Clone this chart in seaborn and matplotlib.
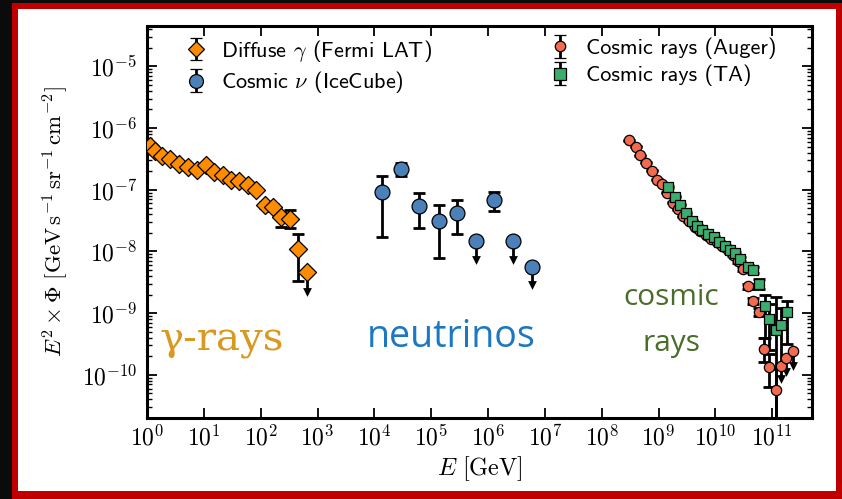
import numpy as np
import pandas as pd
import matplotlib
matplotlib.use("Agg")
import matplotlib.pyplot as plt
import seaborn as sns
from matplotlib.patches import Rectangle
from matplotlib.ticker import LogLocator, NullLocator, FuncFormatter

# ---------------- data (E in GeV, E^2 Phi in GeV s^-1 sr^-1 cm^-2) ----------------
fermi_E = [1.12, 1.38, 1.82, 2.57, 3.72, 5.25, 7.59, 11.0, 15.1, 21.4, 29.5, 41.7,
           58.9, 81.3, 117, 162, 229, 331, 457]
fermi_F = [5.13e-7, 4.17e-7, 3.47e-7, 3.16e-7, 2.63e-7, 2.34e-7, 2.09e-7, 2.51e-7,
           1.91e-7, 1.74e-7, 1.45e-7, 1.41e-7, 1.20e-7, 9.8e-8, 5.75e-8, 5.25e-8,
           3.63e-8, 3.39e-8, 1.10e-8]
fermi_lo = [5.0e-7, 4.05e-7, 3.37e-7, 3.07e-7, 2.55e-7, 2.27e-7, 2.03e-7, 2.43e-7,
            1.85e-7, 1.68e-7, 1.40e-7, 1.36e-7, 1.15e-7, 9.3e-8, 5.1e-8, 4.5e-8,
            2.45e-8, 2.40e-8, 3.31e-9]
fermi_hi = [5.3e-7, 4.3e-7, 3.57e-7, 3.26e-7, 2.71e-7, 2.41e-7, 2.15e-7, 2.59e-7,
            1.97e-7, 1.80e-7, 1.50e-7, 1.46e-7, 1.25e-7, 1.03e-7, 6.4e-8, 5.9e-8,
            4.17e-8, 4.68e-8, 1.95e-8]
fermi_ul_E = [646]
fermi_ul_F = [4.68e-9]
fermi_ul_tip = [2.2e-9]

nu_E = [1.35e4, 2.95e4, 6.17e4, 1.35e5, 2.82e5, 1.29e6]
nu_F = [9.1e-8, 2.14e-7, 5.5e-8, 3.16e-8, 4.27e-8, 6.76e-8]
nu_lo = [1.70e-8, 1.70e-7, 2.4e-8, 7.9e-9, 1.95e-8, 4.47e-8]
nu_hi = [1.70e-7, 2.75e-7, 8.9e-8, 5.75e-8, 6.76e-8, 9.3e-8]
nu_ul_E = [6.17e5, 2.75e6, 6.03e6]
nu_ul_F = [1.45e-8, 1.45e-8, 5.5e-9]
nu_ul_tip = [7.2e-9, 7.2e-9, 2.9e-9]

auger_E = [3.02e8, 3.98e8, 4.68e8, 6.03e8, 7.59e8, 9.55e8, 1.17e9, 1.41e9, 1.78e9,
           2.24e9, 2.69e9, 3.47e9, 4.37e9, 5.37e9, 6.76e9, 8.51e9, 1.07e10, 1.32e10,
           1.66e10, 2.04e10, 2.51e10, 3.02e10, 3.72e10, 4.57e10, 5.89e10, 7.08e10,
           8.91e10, 1.17e11]
auger_F = [6.31e-7, 5.01e-7, 3.63e-7, 2.75e-7, 2.04e-7, 1.45e-7, 1.26e-7, 8.9e-8,
           6.17e-8, 4.79e-8, 3.72e-8, 3.09e-8, 2.51e-8, 2.14e-8, 1.86e-8, 1.58e-8,
           1.41e-8, 1.23e-8, 1.05e-8, 8.7e-9, 6.9e-9, 5.25e-9, 2.75e-9, 1.58e-9,
           1.05e-9, 2.63e-10, 1.32e-10, 5.6e-11]
auger_lo = [6.2e-7, 4.9e-7, 3.56e-7, 2.7e-7, 2.0e-7, 1.42e-7, 1.23e-7, 8.7e-8,
            6.05e-8, 4.7e-8, 3.65e-8, 3.03e-8, 2.46e-8, 2.1e-8, 1.82e-8, 1.55e-8,
            1.37e-8, 1.19e-8, 1.01e-8, 8.3e-9, 6.5e-9, 4.9e-9, 2.5e-9, 1.4e-9,
            8.9e-10, 1.6e-10, 6.3e-11, 2.0e-11]
auger_hi = [6.4e-7, 5.1e-7, 3.7e-7, 2.8e-7, 2.08e-7, 1.48e-7, 1.29e-7, 9.1e-8,
            6.3e-8, 4.9e-8, 3.8e-8, 3.15e-8, 2.56e-8, 2.18e-8, 1.9e-8, 1.62e-8,
            1.45e-8, 1.27e-8, 1.09e-8, 9.1e-9, 7.3e-9, 5.6e-9, 3.0e-9, 1.76e-9,
            1.22e-9, 4.0e-10, 2.2e-10, 1.25e-10]
auger_ul_E = [1.45e11, 1.74e11, 2.34e11]
auger_ul_F = [1.41e-10, 1.86e-10, 2.4e-10]
auger_ul_tip = [8.5e-11, 1.1e-10, 1.4e-10]

ta_E = [1.48e9, 1.95e9, 2.40e9, 3.02e9, 3.80e9, 4.68e9, 5.89e9, 7.41e9, 9.33e9,
        1.15e10, 1.45e10, 1.82e10, 2.24e10, 2.75e10, 3.72e10, 4.57e10, 5.89e10,
        7.41e10, 8.91e10, 1.17e11, 1.45e11, 1.78e11]
ta_F = [1.10e-7, 7.76e-8, 5.75e-8, 4.17e-8, 3.16e-8, 2.57e-8, 2.24e-8, 1.95e-8,
        1.74e-8, 1.41e-8, 1.23e-8, 1.05e-8, 9.3e-9, 7.6e-9, 5.5e-9, 5.0e-9, 3.0e-9,
        1.29e-9, 7.9e-10, 5.4e-10, 6.5e-10, 1.05e-9]
ta_lo = [1.07e-7, 7.55e-8, 5.6e-8, 4.06e-8, 3.07e-8, 2.5e-8, 2.17e-8, 1.89e-8,
         1.68e-8, 1.36e-8, 1.18e-8, 1.0e-8, 8.8e-9, 7.1e-9, 5.0e-9, 4.4e-9, 2.5e-9,
         4.0e-10, 2.5e-10, 2.0e-11, 1.3e-10, 3.2e-10]
ta_hi = [1.13e-7, 7.95e-8, 5.9e-8, 4.28e-8, 3.25e-8, 2.64e-8, 2.31e-8, 2.01e-8,
         1.80e-8, 1.46e-8, 1.28e-8, 1.10e-8, 9.8e-9, 8.1e-9, 6.0e-9, 5.6e-9, 3.6e-9,
         2.0e-9, 1.4e-9, 1.8e-9, 1.2e-9, 1.6e-9]

x_ticks = [1e0, 1e1, 1e2, 1e3, 1e4, 1e5, 1e6, 1e7, 1e8, 1e9, 1e10, 1e11]

labels = [r"Diffuse $\gamma$ (Fermi LAT)", r"Cosmic $\nu$ (IceCube)",
          "Cosmic rays (Auger)", "Cosmic rays (TA)"]
colors = ["#FF8C00", "#4B80B8", "#F26B4E", "#3BAE6E"]

# ---------------- style ----------------
sns.set_style("ticks")
plt.rcParams.update({
    "font.family": ["DejaVu Sans"],
    "mathtext.fontset": "cm",
    "axes.linewidth": 2.0,
    "axes.edgecolor": "black",
    "axes.labelcolor": "black",
    "text.color": "black",
    "xtick.color": "black",
    "ytick.color": "black",
    "xtick.direction": "in",
    "ytick.direction": "in",
})

W, H = 842, 499
fig = plt.figure(figsize=(W / 100, H / 100), dpi=100)
fig.patch.set_facecolor("#0b0b0b")


def px_rect(x0, y0, x1, y1, **kw):
    fig.add_artist(Rectangle((x0 / W, 1 - y1 / H), (x1 - x0) / W, (y1 - y0) / H,
                             transform=fig.transFigure, zorder=-10, **kw))


px_rect(12, 3, 842, 499, facecolor="#C00000", edgecolor="none")
px_rect(18, 9, 836, 491, facecolor="white", edgecolor="none")

ax = fig.add_axes([147 / W, 1 - 418 / H, (812 - 147) / W, (418 - 26) / H])
ax.set_facecolor("white")
ax.set_xscale("log")
ax.set_yscale("log")

eb_kw = dict(fmt="none", ecolor="black", elinewidth=2.0, capsize=4, capthick=2.0, zorder=2)
ul_kw = dict(fmt="none", ecolor="black", elinewidth=2.0, capsize=0, zorder=2)


def draw(E, F, lo, hi, marker, color, s):
    E = np.asarray(E); F = np.asarray(F)
    ax.errorbar(E, F, yerr=[F - np.asarray(lo), np.asarray(hi) - F], **eb_kw)
    sns.scatterplot(x=E, y=F, marker=marker, s=s, color=color, edgecolor="black",
                    linewidth=0.9, ax=ax, zorder=3, legend=False)


def draw_ul(E, F, tip, marker, color, s):
    E = np.asarray(E); F = np.asarray(F); tip = np.asarray(tip)
    ax.errorbar(E, F, yerr=[F - tip, np.zeros_like(F)], **ul_kw)
    sns.scatterplot(x=E, y=tip, marker="v", s=40, color="black", edgecolor="black",
                    linewidth=0, ax=ax, zorder=2, legend=False)
    sns.scatterplot(x=E, y=F, marker=marker, s=s, color=color, edgecolor="black",
                    linewidth=0.9, ax=ax, zorder=3, legend=False)


draw(fermi_E, fermi_F, fermi_lo, fermi_hi, "D", colors[0], 85)
draw_ul(fermi_ul_E, fermi_ul_F, fermi_ul_tip, "D", colors[0], 85)
draw(nu_E, nu_F, nu_lo, nu_hi, "o", colors[1], 115)
draw_ul(nu_ul_E, nu_ul_F, nu_ul_tip, "o", colors[1], 115)
draw(auger_E, auger_F, auger_lo, auger_hi, "o", colors[2], 55)
draw_ul(auger_ul_E, auger_ul_F, auger_ul_tip, "o", colors[2], 55)
draw(ta_E, ta_F, ta_lo, ta_hi, "s", colors[3], 60)

# legend proxies (off-screen)
handles = []
for m, c, ms in zip(["D", "o", "o", "s"], colors, [8.5, 10, 7.5, 8]):
    h = ax.errorbar([1e-5], [1.0], yerr=[0.5], fmt=m, color=c, mec="black", mew=0.9,
                    ms=ms, ecolor="black", elinewidth=2, capsize=4, capthick=2)
    handles.append(h)

ax.set_xlim(1, 5e11)
ax.set_ylim(2e-11, 4.5e-5)
ax.set_xticks(x_ticks)
ax.xaxis.set_minor_locator(NullLocator())
ax.yaxis.set_major_locator(LogLocator(base=10, numticks=20))
ax.yaxis.set_minor_locator(LogLocator(base=10, subs=np.arange(2, 10), numticks=20))
fmt = FuncFormatter(lambda v, p: r"$10^{%d}$" % int(round(np.log10(v))))
ax.xaxis.set_major_formatter(fmt)
ax.yaxis.set_major_formatter(fmt)
ax.tick_params(which="both", direction="in", top=True, right=True, labelsize=17)
ax.tick_params(which="major", length=7, width=1.3)
ax.tick_params(axis="x", which="major", pad=5)
ax.tick_params(axis="y", which="major", pad=7)
ax.tick_params(which="minor", length=3.5, width=1.0)
for sp in ax.spines.values():
    sp.set_linewidth(2.2)

ax.set_xlabel(r"$E\ [\mathrm{GeV}]$", fontsize=17.5, labelpad=3)
ax.set_ylabel(r"$E^2\times\Phi\ [\mathrm{GeV\,s^{-1}\,sr^{-1}\,cm^{-2}}]$",
              fontsize=16.5, labelpad=8)

leg_kw = dict(frameon=False, handlelength=1.1, handletextpad=0.6,
              labelspacing=0.25, borderpad=0, borderaxespad=0, loc="upper left",
              prop={"family": ["cmss10", "DejaVu Sans"], "size": 16})
leg1 = ax.legend(handles[:2], labels[:2], bbox_to_anchor=(0.055, 0.97), **leg_kw)
ax.add_artist(leg1)
ax.legend(handles[2:], labels[2:], bbox_to_anchor=(0.603, 0.97), **leg_kw)

ax.text(0.113, 0.197, "γ-rays", transform=ax.transAxes, ha="center", va="center",
        color="#D9981F", fontsize=29, family=["DejaVu Serif"])
ax.text(0.457, 0.207, "neutrinos", transform=ax.transAxes, ha="center", va="center",
        color="#1C78C0", fontsize=27, family=["Open Sans", "DejaVu Sans"])
ax.text(0.789, 0.308, "cosmic", transform=ax.transAxes, ha="center", va="center",
        color="#4A6E2A", fontsize=21.5, family=["Open Sans", "DejaVu Sans"])
ax.text(0.789, 0.19, "rays", transform=ax.transAxes, ha="center", va="center",
        color="#4A6E2A", fontsize=21.5, family=["Open Sans", "DejaVu Sans"])

fig.savefig("out.png", dpi=100, facecolor=fig.get_facecolor())
